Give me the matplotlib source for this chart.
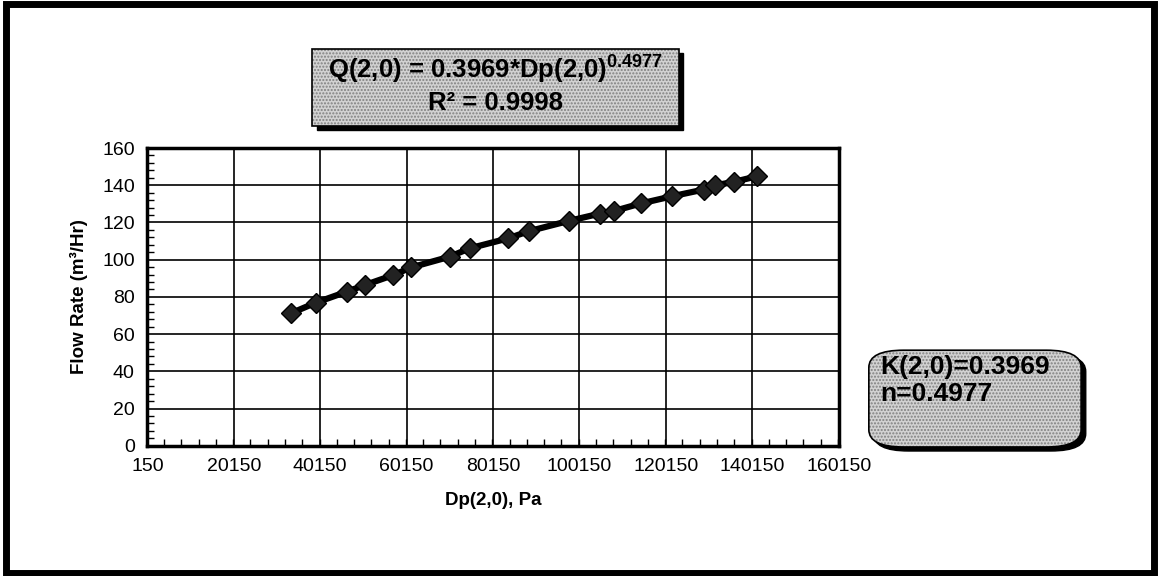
import matplotlib.pyplot as plt
from matplotlib.patches import FancyBboxPatch, Rectangle
from matplotlib.ticker import MultipleLocator

plt.rcParams['font.family'] = ['Liberation Sans', 'DejaVu Sans']
plt.rcParams['mathtext.fontset'] = 'custom'
plt.rcParams['mathtext.rm'] = 'Liberation Sans:bold'
plt.rcParams['mathtext.bf'] = 'Liberation Sans:bold'

# measured pressure drop (Pa) and flow rate (m3/Hr)
dp = [33370, 39140, 46290, 50510, 57040, 61280, 70120, 74730, 83560, 88410,
      97800, 104950, 108180, 114340, 121630, 128940, 131640, 135860, 141230]
flow = [71.2, 76.9, 82.8, 86.4, 91.7, 95.9, 101.6, 106.1, 111.4, 115.3,
        120.9, 124.8, 126.2, 130.2, 134.1, 137.7, 140.0, 141.8, 144.8]

x_ticks = [150, 20150, 40150, 60150, 80150, 100150, 120150, 140150, 160150]
y_ticks = [0, 20, 40, 60, 80, 100, 120, 140, 160]

fit_text = 'Q(2,0) = 0.3969*Dp(2,0)$^{0.4977}$\nR\u00b2 = 0.9998'
k_text = 'K(2,0)=0.3969\nn=0.4977'

fig = plt.figure(figsize=(11.6, 5.76), dpi=100)
ax = fig.add_axes([0.127, 0.226, 0.596, 0.517])

ax.plot(dp, flow, color='black', lw=4.5, marker='D', markersize=10,
        markerfacecolor='#222222', markeredgecolor='black', zorder=3)

ax.set_xlim(x_ticks[0], x_ticks[-1])
ax.set_ylim(y_ticks[0], y_ticks[-1])
ax.set_xticks(x_ticks)
ax.set_yticks(y_ticks)
ax.xaxis.set_minor_locator(MultipleLocator(4000))
ax.yaxis.set_minor_locator(MultipleLocator(4))
ax.tick_params(which='both', direction='in', labelsize=14, top=False, right=False)
ax.tick_params(which='major', length=0, pad=9)
ax.tick_params(which='minor', length=5, width=1)
ax.grid(True, which='major', color='black', lw=1.2)
for s in ax.spines.values():
    s.set_linewidth(2.5)

ax.set_xlabel('Dp(2,0), Pa', fontsize=13.5, fontweight='bold', labelpad=12)
ax.set_ylabel('Flow Rate (m\u00b3/Hr)', fontsize=13.5, fontweight='bold', labelpad=10)


def shaded_box(x0, y0, w, h, style):
    # drop shadow, dotted grey fill, then the outline
    sh = FancyBboxPatch((x0 + 0.004, y0 - 0.007), w, h, boxstyle=style,
                        transform=fig.transFigure, fc='black', ec='black', lw=1)
    fill = FancyBboxPatch((x0, y0), w, h, boxstyle=style, transform=fig.transFigure,
                          fc='#d2d2d2', ec='#808080', hatch='.....', lw=0)
    edge = FancyBboxPatch((x0, y0), w, h, boxstyle=style, transform=fig.transFigure,
                          fc='none', ec='black', lw=1.2)
    for p in (sh, fill, edge):
        fig.patches.append(p)


shaded_box(0.269, 0.782, 0.316, 0.133, 'square,pad=0')
fig.text(0.427, 0.855, fit_text, ha='center', va='center', fontsize=18.5,
         fontweight='bold', linespacing=1.3)

shaded_box(0.749, 0.224, 0.183, 0.168, 'round,pad=0,rounding_size=0.03')
fig.text(0.759, 0.34, k_text, ha='left', va='center', fontsize=19,
         fontweight='bold', linespacing=1.15)

# outer frame
fig.patches.append(Rectangle((0.005, 0.005), 0.99, 0.988, transform=fig.transFigure,
                             fill=False, ec='black', lw=5))

fig.savefig('out.png', dpi=100)
